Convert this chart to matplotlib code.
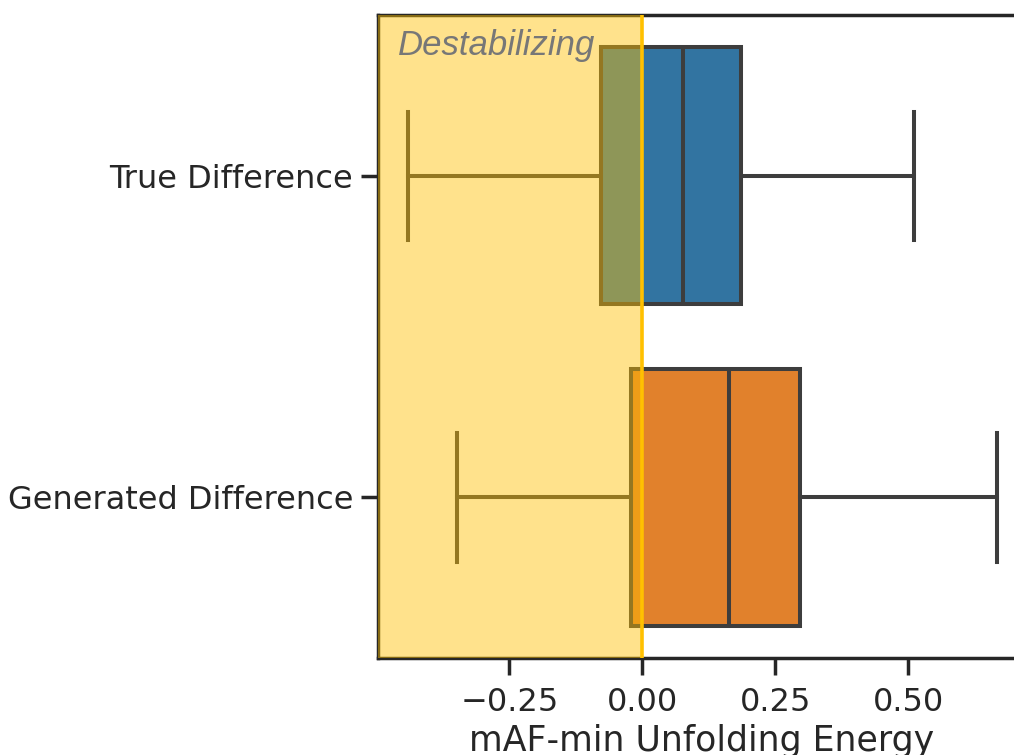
import matplotlib

matplotlib.use("Agg")
import matplotlib.pyplot as plt

# box statistics (mAF-min unfolding energy)
labels = ["True Difference", "Generated Difference"]
whislo = [-0.44, -0.348]
q1 = [-0.077, -0.021]
med = [0.077, 0.164]
q3 = [0.186, 0.297]
whishi = [0.511, 0.667]
box_colors = ["#3274a1", "#e1812c"]

LINE = "#3d3d3d"
GOLD = "#FFC000"

RC = {
    "font.family": "DejaVu Sans",
    "xtick.labelsize": 23,
    "ytick.labelsize": 23,
    "axes.labelsize": 25,
    "axes.linewidth": 2.5,
    "axes.edgecolor": "#262626",
    "xtick.major.size": 12,
    "ytick.major.size": 12,
    "xtick.major.width": 2.5,
    "ytick.major.width": 2.5,
    "xtick.color": "#262626",
    "ytick.color": "#262626",
    "text.color": "#262626",
    "axes.labelcolor": "#262626",
}

with plt.rc_context(RC):
    fig = plt.figure(figsize=(10.14, 7.55), dpi=100)
    # right spine sits just outside the picture, as in the cropped original
    ax = fig.add_axes([0.3728, 0.1285, 0.638, 0.8515])

    stats = [
        dict(label=lab, whislo=lo, q1=a, med=m, q3=b, whishi=hi, fliers=[])
        for lab, lo, a, m, b, hi in zip(labels, whislo, q1, med, q3, whishi)
    ]
    bp = ax.bxp(
        stats, positions=[0, 1], widths=0.8, orientation="horizontal",
        patch_artist=True, showfliers=False, capwidths=0.4,
        boxprops=dict(linewidth=2.9, edgecolor=LINE),
        whiskerprops=dict(linewidth=2.9, color=LINE),
        capprops=dict(linewidth=2.9, color=LINE),
        medianprops=dict(linewidth=2.9, color=LINE),
    )
    for patch, col in zip(bp["boxes"], box_colors):
        patch.set_facecolor(col)

    ax.set_xlim(-0.497, 0.72)
    ax.set_ylim(1.5, -0.5)
    ax.set_xticks([-0.25, 0.0, 0.25, 0.5])
    ax.set_xticklabels(["\u22120.25", "0.00", "0.25", "0.50"])
    ax.set_yticks([0, 1])
    ax.set_yticklabels(labels)
    ax.tick_params(axis="x", pad=9)
    ax.tick_params(axis="y", pad=6)

    # destabilizing region shaded over the boxes
    ax.axvspan(-0.497, 0, color=GOLD, alpha=0.45, zorder=3, lw=0)
    ax.axvline(0, color=GOLD, lw=2.6, zorder=4)
    ax.text(0.031, 0.953, "Destabilizing", transform=ax.transAxes,
            fontsize=25, style="italic", family="Liberation Sans",
            color="#777777", ha="left", va="center", zorder=5)

    ax.set_xlabel("mAF-min Unfolding Energy", labelpad=4)

    fig.savefig("out.png", dpi=100)
